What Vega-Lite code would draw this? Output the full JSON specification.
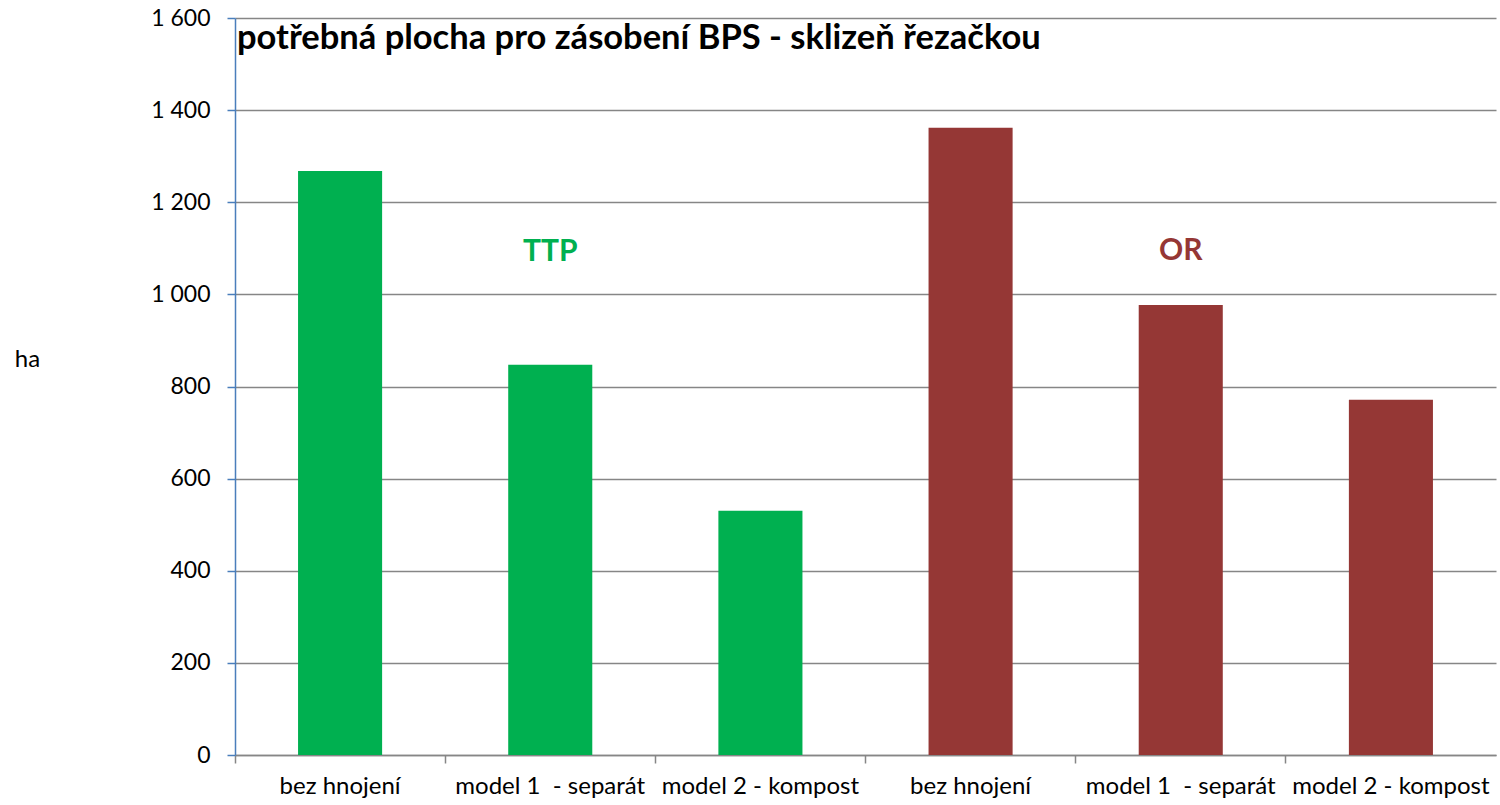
{
  "$schema": "https://vega.github.io/schema/vega-lite/v6.json",
  "width": 1261,
  "height": 737,
  "autosize": "none",
  "padding": {"left": 235, "top": 18, "right": 4, "bottom": 50},
  "background": "white",
  "config": {
    "font": "Lato",
    "view": {"stroke": null}
  },
  "data": {
    "values": [
      {"key": "TTP|bez hnojení", "group": "TTP", "value": 1268},
      {"key": "TTP|model 1\u00a0 - separát", "group": "TTP", "value": 847},
      {"key": "TTP|model 2 - kompost", "group": "TTP", "value": 530},
      {"key": "OR|bez hnojení", "group": "OR", "value": 1362},
      {"key": "OR|model 1\u00a0 - separát", "group": "OR", "value": 977},
      {"key": "OR|model 2 - kompost", "group": "OR", "value": 771}
    ]
  },
  "encoding": {
    "x": {
      "field": "key",
      "type": "nominal",
      "sort": null,
      "scale": {"paddingInner": 0, "paddingOuter": 0},
      "axis": {
        "title": null,
        "bandPosition": 0,
        "labelAngle": 0,
        "labelExpr": "split(datum.label, '|')[1]",
        "labelFontSize": 24,
        "labelLimit": 0,
        "labelColor": "#000000",
        "labelPadding": 11,
        "labelBaseline": "top",
        "labelAlign": "center",
        "domainColor": "#868686",
        "domainWidth": 1.5,
        "tickColor": "#868686",
        "tickWidth": 1.5,
        "tickSize": 8,
        "grid": false
      }
    }
  },
  "layer": [
    {
      "mark": {"type": "bar", "width": {"band": 0.4}},
      "encoding": {
        "y": {
          "field": "value",
          "type": "quantitative",
          "scale": {"domain": [0, 1600], "nice": false},
          "axis": {
            "values": [0, 200, 400, 600, 800, 1000, 1200, 1400, 1600],
            "labelExpr": "replace(format(datum.value, ','), ',', ' ')",
            "labelFontSize": 23,
            "labelColor": "#000000",
            "labelPadding": 17,
            "domainColor": "#4a7ebb",
            "domainWidth": 1.5,
            "tickColor": "#4a7ebb",
            "tickWidth": 1.5,
            "tickSize": 8,
            "grid": true,
            "gridColor": "#868686",
            "gridWidth": 1.5,
            "title": "ha",
            "titleAngle": 0,
            "titleFontSize": 24,
            "titleFontWeight": "normal",
            "titleColor": "#000000",
            "titleX": -208,
            "titleY": 341,
            "titleAlign": "center",
            "titleBaseline": "middle"
          }
        },
        "color": {
          "field": "group",
          "type": "nominal",
          "scale": {"domain": ["TTP", "OR"], "range": ["#00b050", "#953735"]},
          "legend": null
        }
      }
    },
    {
      "data": {
        "values": [
          {"key": "TTP|model 1\u00a0 - separát", "group": "TTP", "label": "TTP", "pos": 1092},
          {"key": "OR|model 1\u00a0 - separát", "group": "OR", "label": "OR", "pos": 1095}
        ]
      },
      "mark": {"type": "text", "fontSize": 30, "fontWeight": "bold", "baseline": "middle", "align": "center"},
      "encoding": {
        "y": {"field": "pos", "type": "quantitative"},
        "text": {"field": "label"},
        "color": {"field": "group", "type": "nominal", "legend": null}
      }
    },
    {
      "data": {
        "values": [
          {"key": "TTP|bez hnojení", "label": "potřebná plocha pro zásobení BPS - sklizeň řezačkou", "pos": 1532}
        ]
      },
      "mark": {"type": "text", "fontSize": 34.5, "fontWeight": "bold", "baseline": "alphabetic", "align": "left", "dx": 2, "color": "#000000"},
      "encoding": {
        "x": {"field": "key", "type": "nominal", "bandPosition": 0},
        "y": {"field": "pos", "type": "quantitative"},
        "text": {"field": "label"}
      }
    }
  ]
}
